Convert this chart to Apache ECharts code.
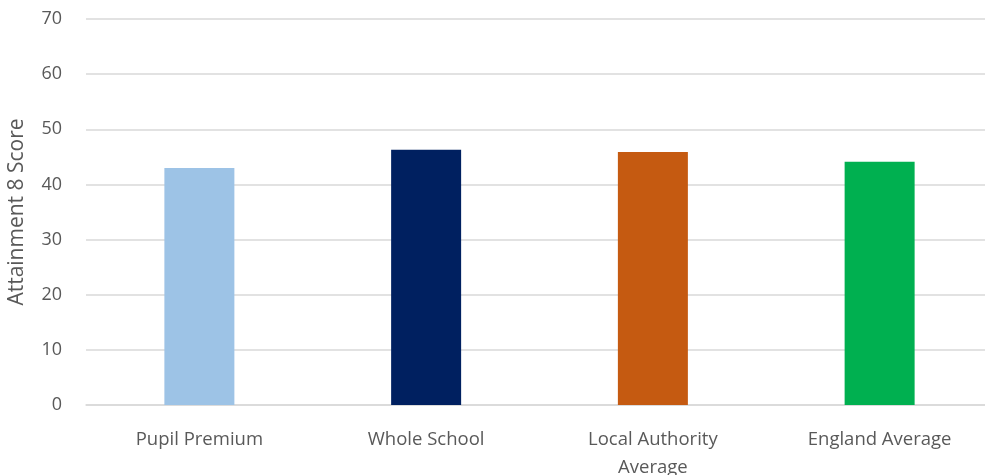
<!DOCTYPE html>
<html>
<head>
<meta charset="utf-8">
<script src="https://cdn.jsdelivr.net/npm/echarts@6/dist/echarts.min.js"></script>
<style>
html,body{margin:0;padding:0;background:#fff;}
#c{width:985px;height:475px;}
</style>
</head>
<body>
<div id="c"></div>
<script>
var categories = ['Pupil Premium', 'Whole School', 'Local Authority\nAverage', 'England Average'];
var scores = [43.0, 46.3, 45.9, 44.1];
var barColors = ['#9dc3e6', '#002060', '#c55a11', '#00b050'];
var yTicks = { min: 0, max: 70, interval: 10 };
var yName = 'Attainment 8 Score';

var chart = echarts.init(document.getElementById('c'));
chart.setOption({
  animation: false,
  textStyle: { fontFamily: 'Open Sans, sans-serif' },
  grid: { left: 86, width: 907, top: 19, bottom: 70, containLabel: false, outerBoundsMode: 'none' },
  xAxis: {
    type: 'category',
    data: categories,
    axisLine: { lineStyle: { color: '#d9d9d9', width: 1.5 } },
    axisTick: { show: false },
    axisLabel: { color: '#595959', fontSize: 18.5, margin: 21, lineHeight: 28 }
  },
  yAxis: {
    type: 'value',
    min: yTicks.min, max: yTicks.max, interval: yTicks.interval,
    name: yName,
    nameLocation: 'middle',
    nameGap: 58,
    nameTextStyle: { color: '#595959', fontSize: 21 },
    axisLine: { show: false },
    axisTick: { show: false },
    axisLabel: { color: '#595959', fontSize: 18, margin: 24 },
    splitLine: { lineStyle: { color: '#d9d9d9', width: 1.5 } }
  },
  series: [{
    type: 'bar',
    barWidth: 70,
    data: scores.map(function (v, i) { return { value: v, itemStyle: { color: barColors[i] } }; })
  }]
});
</script>
</body>
</html>
